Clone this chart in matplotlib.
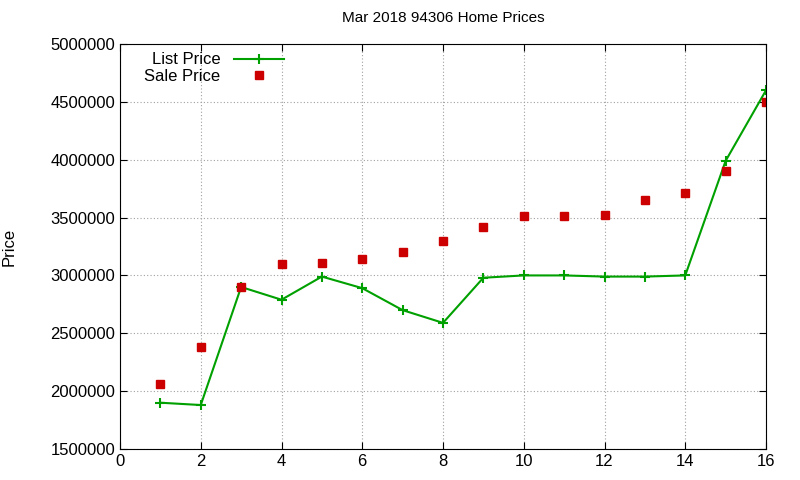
import matplotlib
matplotlib.use("Agg")
import matplotlib.pyplot as plt

x = list(range(1, 17))
list_price = [1900000, 1880000, 2900000, 2790000, 2990000, 2890000, 2700000, 2590000,
              2980000, 3000000, 3000000, 2990000, 2990000, 3000000, 3990000, 4600000]
sale_price = [2060000, 2380000, 2900000, 3100000, 3110000, 3140000, 3200000, 3300000,
              3420000, 3510000, 3510000, 3520000, 3650000, 3710000, 3900000, 4500000]

plt.rcParams['font.family'] = ['Liberation Sans', 'DejaVu Sans']
plt.rcParams['font.size'] = 12
fig = plt.figure(figsize=(8, 4.8), dpi=100)
ax = fig.add_axes([120/800, 1-449/480, (766-120)/800, (449-44)/480])
ax.plot(x, list_price, color='#00a000', marker='+', markersize=7, mew=1.5, lw=1.5, label='List Price')
ax.plot(x, sale_price, color='#cc0000', marker='s', markersize=6, ls='none', label='Sale Price')
ax.set_xlim(0, 16)
ax.set_ylim(1500000, 5000000)
ax.set_xticks(range(0, 17, 2))
ax.set_yticks(range(1500000, 5000001, 500000))
ax.ticklabel_format(style='plain', axis='y')
ax.grid(True, color='#a0a0a0', ls=(0, (1, 2)), lw=0.8)
ax.tick_params(direction='in', top=True, right=True, length=5)
ax.set_ylabel('Price')
ax.yaxis.set_label_coords(-0.16, 0.5)
ax.set_title('Mar 2018 94306 Home Prices', fontsize=11, pad=16)
ax.legend(loc='upper left', bbox_to_anchor=(0.025, 1.0), frameon=False, markerfirst=False,
          handlelength=3, borderaxespad=0.1, labelspacing=0.1, fontsize=12)
fig.savefig('out.png')
